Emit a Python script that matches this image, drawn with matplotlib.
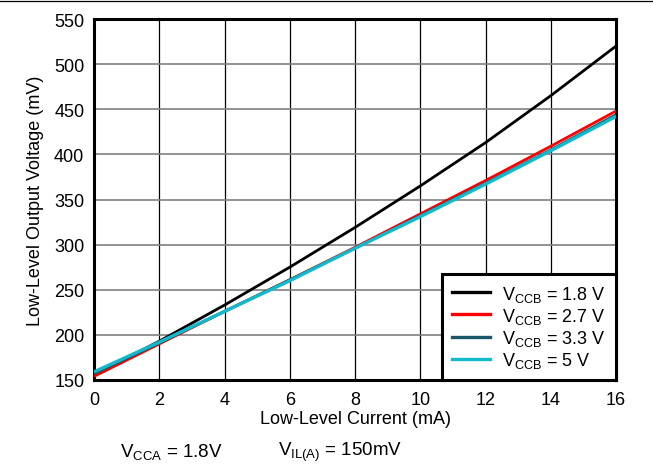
import matplotlib
matplotlib.use("Agg")
import matplotlib.pyplot as plt
from matplotlib.lines import Line2D

plt.rcParams['font.family'] = ['Liberation Sans', 'DejaVu Sans']
plt.rcParams['mathtext.fontset'] = 'custom'
plt.rcParams['mathtext.rm'] = 'Liberation Sans'

# data
current_ma = [0, 2, 4, 6, 8, 10, 12, 14, 16]
v_18 = [156, 193, 233, 275, 319, 365, 413, 465, 520]
v_27 = [154, 190, 226, 261, 297, 334, 371, 409, 448]
v_33 = [157, 191, 226, 261, 296, 332, 368, 405, 444]
v_50 = [159, 192, 226, 260, 296, 331, 367, 404, 442]
labels = ['1.8 V', '2.7 V', '3.3 V', '5 V']
colors = ['#000000', '#ff0000', '#1a5868', '#12b9cc']
xticks = list(range(0, 17, 2))
yticks = list(range(150, 551, 50))

fs = 13

fig = plt.figure(figsize=(6.53, 4.77), dpi=100)
ax = fig.add_axes([94/653, 1 - 381/477, 522/653, 361/477])

series = [v_18, v_27, v_33, v_50]
widths = [2.0, 2.0, 2.0, 2.4]
for vals, col, lw in zip(series, colors, widths):
    ax.plot(current_ma, vals, color=col, lw=lw, solid_capstyle='butt', zorder=3)

ax.set_xlim(0, 16)
ax.set_ylim(150, 550)
ax.set_xticks(xticks)
ax.set_yticks(yticks)
ax.tick_params(labelsize=fs, length=0, pad=8)
ax.tick_params(axis='y', pad=7)
ax.xaxis.grid(True, color='black', lw=0.9)
ax.yaxis.grid(True, color='#808080', lw=1.2)
for sp in ax.spines.values():
    sp.set_linewidth(2.2)
ax.set_xlabel('Low-Level Current (mA)', fontsize=fs, labelpad=1)
ax.set_ylabel('Low-Level Output Voltage (mV)', fontsize=fs, labelpad=7)

handles = [Line2D([], [], color=c, lw=2.4) for c in colors]
leg_labels = [r'$\mathregular{V_{CCB}}$ = ' + l for l in labels]
leg = ax.legend(handles, leg_labels, loc='lower right', fontsize=fs,
                frameon=True, fancybox=False, borderaxespad=0,
                handlelength=2.1, labelspacing=0.12, borderpad=0.55,
                handletextpad=0.7)
leg.get_frame().set_edgecolor('black')
leg.get_frame().set_linewidth(2.2)
leg.get_frame().set_alpha(1)

fig.text(120/653, 1 - 452/477, r'$\mathregular{V_{CCA}}$ = 1.8V', fontsize=13.5, va='center')
fig.text(278/653, 1 - 452/477, r'$\mathregular{V_{IL(A)}}$ = 150mV', fontsize=13.5, va='center')

fig.add_artist(Line2D([0, 1], [1 - 2/477, 1 - 2/477], color='black', lw=0.9))

fig.savefig('out.png', dpi=100)
